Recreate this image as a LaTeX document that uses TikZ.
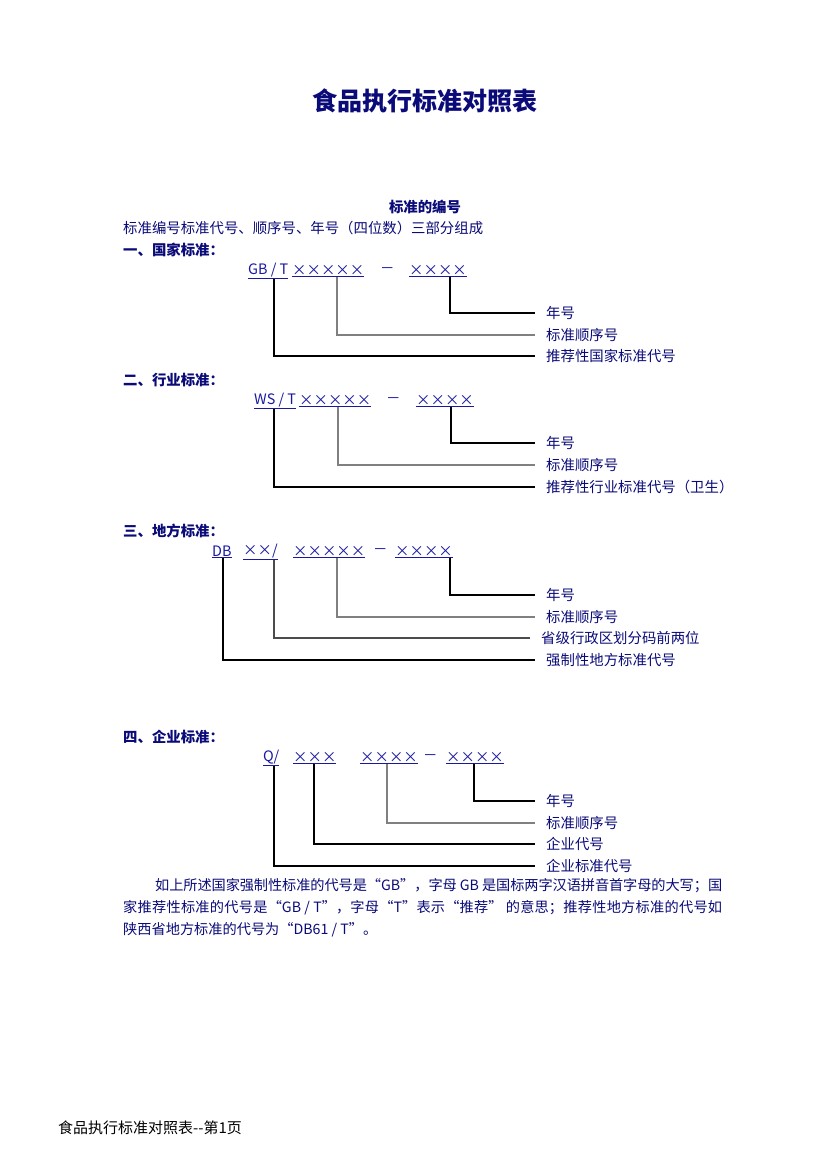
\documentclass[tikz,border=0pt]{standalone}
\usepackage{fontspec}
\setmainfont{Noto Sans CJK SC}
\XeTeXlinebreaklocale "zh"
\XeTeXlinebreakskip=0pt plus 3pt minus 1pt
\usetikzlibrary{positioning}
\definecolor{navy}{RGB}{10,10,120}
\definecolor{codeblue}{RGB}{25,25,160}
\newcommand\crs{\makebox[1em]{×}}

\begin{document}
\begin{tikzpicture}[x=1pt,y=-1pt,
    every node/.style={inner sep=0pt,text=navy,font=\fontsize{14.4}{17}\selectfont},
    head/.style={anchor=west,font=\fontsize{14.4}{17}\selectfont\bfseries},
    code/.style={anchor=west,text=codeblue},
    lbl/.style={anchor=west},
    conn/.style={line width=1.2pt}]
    \useasboundingbox (0,0) rectangle (826,1168);

    \node[font=\fontsize{25}{30}\selectfont\bfseries] (title) at (425,101) {食品执行标准对照表};
    \node[font=\fontsize{14.4}{17}\selectfont\bfseries] (sub) at (425,207) {标准的编号};
    \node[anchor=west] (intro) at (123,228) {标准编号标准代号、顺序号、年号（四位数）三部分组成};

    % national
    \node[head] (h1) at (123,250) {一、国家标准：};
    \node[code] (gb) at (248,271) {\underline{GB / T}};
    \node[code] (s1) at (292,271) {\underline{\crs\crs\crs\crs\crs}};
    \node[code] (d1) at (380,271) {－};
    \node[code] (y1) at (409,271) {\underline{\crs\crs\crs\crs}};
    \node[lbl] (l1a) at (546,313) {年号};
    \node[lbl] (l1b) at (546,335) {标准顺序号};
    \node[lbl] (l1c) at (546,356) {推荐性国家标准代号};

    % industry
    \node[head] (h2) at (123,380) {二、行业标准：};
    \node[code] (ws) at (254,401) {\underline{WS / T}};
    \node[code] (s2) at (299,401) {\underline{\crs\crs\crs\crs\crs}};
    \node[code] (d2) at (386,401) {－};
    \node[code] (y2) at (416,401) {\underline{\crs\crs\crs\crs}};
    \node[lbl] (l2a) at (546,443) {年号};
    \node[lbl] (l2b) at (546,465) {标准顺序号};
    \node[lbl] (l2c) at (546,487) {推荐性行业标准代号（卫生）};

    % local
    \node[head] (h3) at (123,531) {三、地方标准：};
    \node[code] (db) at (212,552) {\underline{DB}};
    \node[code] (p3) at (243,552) {\underline{\crs\crs/}};
    \node[code] (s3) at (293,552) {\underline{\crs\crs\crs\crs\crs}};
    \node[code] (d3) at (373,552) {－};
    \node[code] (y3) at (395,552) {\underline{\crs\crs\crs\crs}};
    \node[lbl] (l3a) at (546,595) {年号};
    \node[lbl] (l3b) at (546,617) {标准顺序号};
    \node[lbl] (l3c) at (541,638) {省级行政区划分码前两位};
    \node[lbl] (l3d) at (546,660) {强制性地方标准代号};

    % enterprise
    \node[head] (h4) at (123,737) {四、企业标准：};
    \node[code] (q) at (263,758) {\underline{Q/}};
    \node[code] (c4) at (293,758) {\underline{\crs\crs\crs}};
    \node[code] (s4) at (360,758) {\underline{\crs\crs\crs\crs}};
    \node[code] (d4) at (423,758) {－};
    \node[code] (y4) at (446,758) {\underline{\crs\crs\crs\crs}};
    \node[lbl] (l4a) at (546,801) {年号};
    \node[lbl] (l4b) at (546,823) {标准顺序号};
    \node[lbl] (l4c) at (546,844) {企业代号};
    \node[lbl] (l4d) at (546,866) {企业标准代号};

    \foreach \from/\dx/\to/\col in {gb/26/l1c/black,s1/45/l1b/gray,y1/41/l1a/black,
        ws/20/l2c/black,s2/39/l2b/gray,y2/35/l2a/black,
        db/11/l3d/black,p3/31/l3c/black!70,s3/44/l3b/gray,y3/55/l3a/black,
        q/11/l4d/black,c4/21/l4c/black,s4/27/l4b/gray,y4/28/l4a/black}
        \draw[conn,\col] ([xshift=\dx pt]\from.south west) |- ([xshift=-11pt]\to.west);

    \node[anchor=north west,text width=599pt,align=justify,font=\fontsize{14.2}{22}\selectfont] (note) at (123,878)
        {\hspace*{32pt}如上所述国家强制性标准的代号是“GB”，字母 GB 是国标两字汉语拼音首字母的大写；国\linebreak
        家推荐性标准的代号是“GB / T”，字母“T”表示“推荐” 的意思；推荐性地方标准的代号如\linebreak
        陕西省地方标准的代号为“DB61 / T”。};

    \node[anchor=west,text=black,font=\fontsize{15}{18}\selectfont] (foot) at (58,1128) {食品执行标准对照表-{}-第1页};
\end{tikzpicture}
\end{document}
